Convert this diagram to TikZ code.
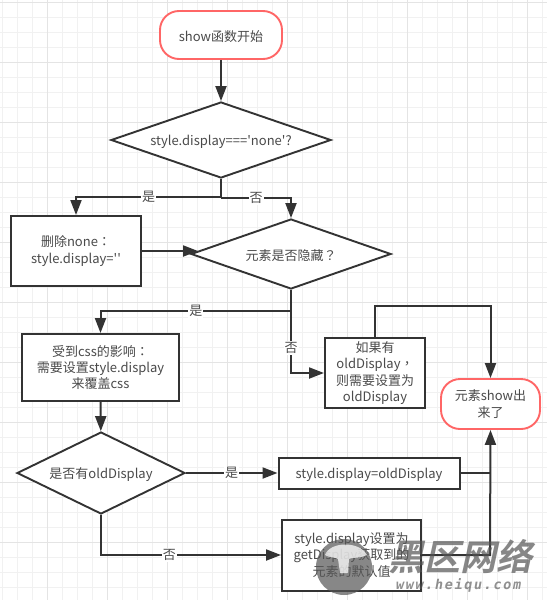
\documentclass[tikz,border=0pt]{standalone}
\usepackage{fontspec}
\usetikzlibrary{arrows.meta,shapes.geometric}
\newfontfamily\basefnt{Noto Sans CJK SC}
\newfontfamily\tcp{Noto Sans CJK TC}
\newfontfamily\wmfont[FakeSlant=0.22]{Noto Sans CJK SC Bold}
\newfontfamily\wmlatin[FakeSlant=0.18,LetterSpace=12]{DejaVu Sans Mono Bold}
\definecolor{ink}{HTML}{333333}
\definecolor{txt}{HTML}{4A4A4A}
\definecolor{pinkline}{HTML}{FF6666}
\definecolor{gridmin}{HTML}{F1F1F1}
\definecolor{gridmaj}{HTML}{E4E4E4}
\definecolor{wm}{HTML}{555555}
\tikzset{
  x=1pt,y=-1pt,
  every node/.style={font=\basefnt\fontsize{13}{16.2}\selectfont,text=txt,align=center,inner sep=0pt},
  raised/.style={execute at begin node={\rule{0pt}{14pt}}},
  term/.style={raised,draw=pinkline,line width=1.9pt,fill=white,rounded corners=19pt,minimum width=#1},
  procbox/.style={raised,draw=ink,line width=2pt,fill=white,minimum width=#1},
  decide/.style={raised,draw=ink,line width=1.9pt,fill=white,diamond},
  link/.style={draw=ink,line width=2pt},
  flow/.style={link,-{Triangle[length=15pt,width=11pt]}},
  lab/.style={fill=white,inner sep=1pt,text=txt},
}
\begin{document}
\begin{tikzpicture}
\useasboundingbox (0,0) rectangle (547,600);
\fill[white] (0,0) rectangle (547,600);
\foreach \i in {0,...,36} \draw[gridmin,line width=.8pt] (2.7+15*\i,0) -- (2.7+15*\i,600);
\foreach \i in {0,...,40} \draw[gridmin,line width=.8pt] (0,2.7+15*\i) -- (547,2.7+15*\i);
\foreach \i in {0,...,8} \draw[gridmaj,line width=1pt] (47.7+60*\i,0) -- (47.7+60*\i,600);
\foreach \i in {0,...,9} \draw[gridmaj,line width=1pt] (0,2.7+60*\i) -- (547,2.7+60*\i);

\node[term=122pt,minimum height=48pt] (start) at (221,35) {show函数开始};
\node[decide,shape aspect=2.89,minimum width=220pt,minimum height=76pt] (d1) at (221,140) {style.display==='none'?};
\node[procbox=130pt,minimum height=70pt] (del) at (76,251) {删除none{\tcp ：}\\style.display=''};
\node[decide,shape aspect=2.86,minimum width=200pt,minimum height=70pt] (d2) at (291,254) {元素是否隐藏{\tcp ？}};
\node[procbox=157pt,minimum height=67pt] (css) at (100.5,367.5) {受到css的影响{\tcp ：}\\需要设置style.display\\来覆盖css};
\node[decide,shape aspect=2.05,minimum width=168pt,minimum height=82pt] (d3) at (101,473) {是否有oldDisplay};
\node[procbox=100pt,minimum height=70pt] (old) at (375,373) {如果有\\oldDisplay{\tcp ，}\\则需要设置为\\oldDisplay};
\node[term=99pt,minimum height=50pt] (end) at (490.5,404) {元素show出\\来了};
\node[procbox=181pt,minimum height=31pt] (set) at (369,473) {style.display=oldDisplay};
\node[procbox=139pt,minimum height=71pt] (get) at (351.5,555) {style.display设置为\\getDisplay获取到的\\元素的默认值};

\coordinate (j1) at (221,197);
\coordinate (j2) at (221,198);
\coordinate (j3) at (291,311);
\coordinate (j4) at (490,473);
\coordinate (j5) at (490,555);

\draw[flow] (start) -- (d1);
\draw[flow] (d1.south) -- (j1) -| (del.north) node[pos=.25,lab] (l1) {是};
\draw[flow] (j2) -| (d2.north) node[pos=.25,lab] (l2) {否};
\draw[flow] (del.east |- 0,251) -- (198,251);
\draw[flow] (j3) -| (css.north) node[pos=.25,lab] (l3) {是};
\draw[flow] (d2.south) |- (old.west) node[pos=.35,lab] (l4) {否};
\draw[flow] (css) -- (d3);
\draw[flow] (d3) -- (set) node[pos=.5,lab] (l5) {是};
\draw[flow] (d3.south) |- (get.west) node[pos=.69,lab] (l6) {否};
\draw[flow] (old.north) |- ++(0,-31) -| (end.north);
\draw[flow] (get.east) -- (j5) -- (end.south);
\draw[link] (set.east) -- (j4);

% watermark
\fill[wm,opacity=.7] (344,567) circle[radius=28];
\fill[white,opacity=.75] (325,555) .. controls (330,541) and (360,541) .. (367,555) .. controls (358,559) and (351,557) .. (349,559) -- (348,573) -- (340,573) -- (338,559) .. controls (335,557) and (330,558) .. (325,555) -- cycle;
\node[opacity=.7,text=wm,font=\wmfont\fontsize{36}{36}\selectfont] (wm1) at (460,557) {黑区网络};
\node[opacity=.65,text=wm,font=\wmlatin\fontsize{13.5}{14}\selectfont] (wm2) at (458,585) {www.heiqu.com};
\end{tikzpicture}
\end{document}
